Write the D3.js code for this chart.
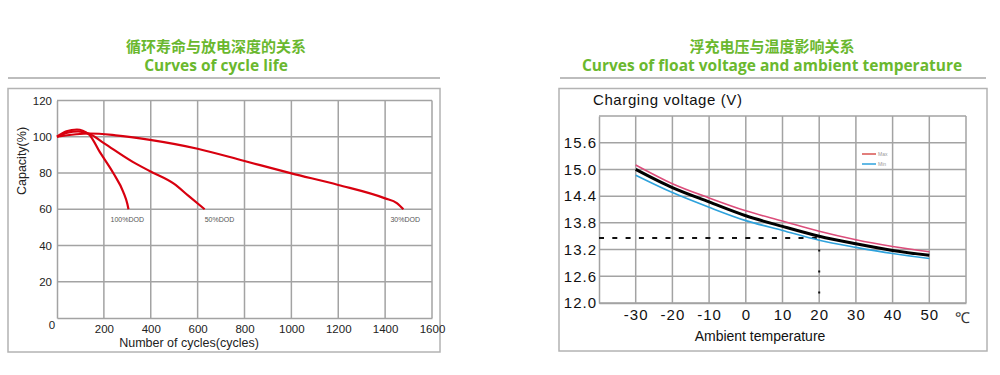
<!DOCTYPE html>
<html>
<head>
<meta charset="utf-8">
<script src="https://cdn.jsdelivr.net/npm/d3@7"></script>
<style>
    body { margin: 0; background: #fff; }
    .tick-l { font-family: "Liberation Sans", Arial, sans-serif; font-size: 11.5px; fill: #222; }
    .tick-r { font-family: "Liberation Sans", Arial, sans-serif; font-size: 15px; fill: #111; letter-spacing: 1px; }
    .title-cn { font-family: "Noto Sans CJK SC", sans-serif; font-weight: 700; font-size: 15px; fill: #6ab82e; }
    .title-en { font-family: "Open Sans", sans-serif; font-weight: 700; font-size: 15.5px; fill: #6ab82e; }
</style>
</head>
<body>
<div id="chart"></div>
<script>
"use strict";

// ---- cycle life chart data ----
const cycleTicks = [200, 400, 600, 800, 1000, 1200, 1400, 1600];
const capacityTicks = [20, 40, 60, 80, 100, 120];
const dodNames = ["100%DOD", "50%DOD", "30%DOD"];
const dod100 = [[0, 100], [40, 103], [85, 104], [135, 101.5], [183, 91.5], [240, 80], [283, 69.5], [300, 63], [305, 60]];
const dod50 = [[0, 100], [45, 102.3], [90, 103], [140, 101.5], [200, 96.5], [325, 86], [397, 81], [500, 74], [560, 67.5], [630, 60]];
const dod30 = [[0, 100], [140, 101.8], [250, 100.8], [397, 98.3], [600, 93.4], [800, 86.6], [1000, 79.8], [1200, 73.4], [1400, 66], [1450, 63.4], [1478, 60]];

// ---- float voltage chart data ----
const tempTicks = [-30, -20, -10, 0, 10, 20, 30, 40, 50];
const voltTicks = [12.0, 12.6, 13.2, 13.8, 14.4, 15.0, 15.6];
const temps = [-30, -20, -10, 0, 10, 20, 30, 40, 50];
const voltMax = [15.10, 14.68, 14.36, 14.07, 13.84, 13.61, 13.42, 13.27, 13.15];
const voltMid = [15.00, 14.59, 14.27, 13.96, 13.72, 13.50, 13.33, 13.18, 13.07];
const voltMin = [14.87, 14.48, 14.15, 13.85, 13.63, 13.41, 13.25, 13.11, 13.00];
const refVolt = 13.46;
const refTemp = 20;
const legendNames = ["Max", "Min"];

const svg = d3.select("#chart")
    .append("svg")
    .attr("width", 1000)
    .attr("height", 375);

const GRID = "#a3a3a3";

function header(cx, x0, x1, cn, en) {
    svg.append("text").attr("class", "title-cn")
        .attr("x", cx).attr("y", 52).attr("text-anchor", "middle").text(cn);
    svg.append("text").attr("class", "title-en")
        .attr("x", cx).attr("y", 71).attr("text-anchor", "middle").text(en);
    svg.append("line")
        .attr("x1", x0).attr("x2", x1).attr("y1", 78).attr("y2", 78)
        .attr("stroke", "#bdbdbd").attr("stroke-width", 2);
}

function panel(x, y, w, h) {
    svg.append("rect")
        .attr("x", x).attr("y", y).attr("width", w).attr("height", h)
        .attr("fill", "none").attr("stroke", "#b3b3b3").attr("stroke-width", 1.5);
}

// ================= left chart =================
header(216, 8, 440, "循环寿命与放电深度的关系", "Curves of cycle life");
panel(8, 88.5, 432, 263.5);

(function cycleChart() {
    const x = d3.scaleLinear().domain([0, 1600]).range([57, 432]);
    const y = d3.scaleLinear().domain([0, 120]).range([318, 100.5]);
    const g = svg.append("g");

    g.append("g").selectAll("line").data(cycleTicks).join("line")
        .attr("x1", d => x(d)).attr("x2", d => x(d))
        .attr("y1", y(0)).attr("y2", y(120))
        .attr("stroke", GRID).attr("stroke-width", 1.5);
    g.append("g").selectAll("line").data(capacityTicks).join("line")
        .attr("x1", x(0)).attr("x2", x(1600))
        .attr("y1", d => y(d)).attr("y2", d => y(d))
        .attr("stroke", GRID).attr("stroke-width", 1.5);

    const xAxis = d3.axisBottom(x).tickValues(cycleTicks).tickSize(0).tickPadding(7)
        .tickFormat(d => String(d));
    const yAxis = d3.axisLeft(y).tickValues(capacityTicks).tickSize(0).tickPadding(5);
    g.append("g").attr("transform", `translate(0,${y(0)})`).call(xAxis)
        .call(a => a.select(".domain").attr("stroke", GRID).attr("stroke-width", 1.5))
        .call(a => a.selectAll("text").attr("class", "tick-l").attr("fill", null));
    g.append("g").attr("transform", `translate(${x(0)},0)`).call(yAxis)
        .call(a => a.select(".domain").attr("stroke", GRID).attr("stroke-width", 1.5))
        .call(a => a.selectAll("text").attr("class", "tick-l").attr("fill", null));

    g.append("text").attr("class", "tick-l")
        .attr("x", x(0) - 5).attr("y", y(0) + 11).attr("text-anchor", "middle").text("0");

    const line = d3.line()
        .x(d => x(d[0]))
        .y(d => y(d[1]))
        .curve(d3.curveMonotoneX);
    [dod30, dod50, dod100].forEach(s => {
        g.append("path").datum(s)
            .attr("d", line)
            .attr("fill", "none")
            .attr("stroke", "#d8000f")
            .attr("stroke-width", 2.2);
    });

    // DOD labels under the end points
    const labelDx = [-18, 0, -13];
    [dod100, dod50, dod30].forEach((s, i) => {
        const end = s[s.length - 1];
        g.append("text")
            .attr("x", x(end[0]) + labelDx[i]).attr("y", y(end[1]) + 13)
            .attr("font-family", "Liberation Sans, Arial, sans-serif")
            .attr("font-size", 7).attr("fill", "#555")
            .text(dodNames[i]);
    });

    g.append("text")
        .attr("font-family", "Liberation Sans, Arial, sans-serif").attr("font-size", 12.5).attr("fill", "#222")
        .attr("text-anchor", "middle")
        .attr("x", 189).attr("y", 347)
        .text("Number of cycles(cycles)");
    g.append("text")
        .attr("font-family", "Liberation Sans, Arial, sans-serif").attr("font-size", 12.5).attr("fill", "#222")
        .attr("text-anchor", "middle")
        .attr("transform", "translate(26,161) rotate(-90)")
        .text("Capacity(%)");
})();

// ================= right chart =================
header(772, 560, 986, "浮充电压与温度影响关系", "Curves of float voltage and ambient temperature");
panel(559, 88.5, 428, 262.5);

(function voltageChart() {
    const x = d3.scaleLinear().domain([-40, 60]).range([599, 966]);
    const y = d3.scaleLinear().domain([12, 16.2]).range([303, 116]);
    const g = svg.append("g");

    g.append("g").selectAll("line").data(tempTicks.concat([60])).join("line")
        .attr("x1", d => x(d)).attr("x2", d => x(d))
        .attr("y1", y(12)).attr("y2", y(16.2))
        .attr("stroke", GRID).attr("stroke-width", 1.5);
    g.append("g").selectAll("line").data(voltTicks.concat([16.2])).join("line")
        .attr("x1", x(-40)).attr("x2", x(60))
        .attr("y1", d => y(d)).attr("y2", d => y(d))
        .attr("stroke", GRID).attr("stroke-width", 1.5);

    const xAxis = d3.axisBottom(x).tickValues(tempTicks).tickSize(0).tickPadding(6)
        .tickFormat(d => String(d));
    const yAxis = d3.axisLeft(y).tickValues(voltTicks).tickSize(0).tickPadding(2)
        .tickFormat(d3.format(".1f"));
    g.append("g").attr("transform", `translate(0,${y(12)})`).call(xAxis)
        .call(a => a.select(".domain").attr("stroke", GRID).attr("stroke-width", 1.5))
        .call(a => a.selectAll("text").attr("class", "tick-r").attr("fill", null));
    g.append("g").attr("transform", `translate(${x(-40)},0)`).call(yAxis)
        .call(a => a.select(".domain").attr("stroke", GRID).attr("stroke-width", 1.5))
        .call(a => a.selectAll("text").attr("class", "tick-r").attr("fill", null));

    // reference lines at 20 ℃
    g.append("line")
        .attr("x1", x(-40)).attr("x2", x(refTemp))
        .attr("y1", y(refVolt)).attr("y2", y(refVolt))
        .attr("stroke", "#111").attr("stroke-width", 2)
        .attr("stroke-dasharray", "5,8.3");
    g.append("line")
        .attr("x1", x(refTemp)).attr("x2", x(refTemp))
        .attr("y1", y(refVolt)).attr("y2", y(12))
        .attr("stroke", "#111").attr("stroke-width", 2)
        .attr("stroke-dasharray", "2,19").attr("stroke-dashoffset", 9.5);

    const line = d3.line()
        .x((d, i) => x(temps[i]))
        .y(d => y(d))
        .curve(d3.curveMonotoneX);
    g.append("path").datum(voltMax).attr("d", line)
        .attr("fill", "none").attr("stroke", "#dc4d7b").attr("stroke-width", 1.6);
    g.append("path").datum(voltMin).attr("d", line)
        .attr("fill", "none").attr("stroke", "#2ea2dc").attr("stroke-width", 1.6);
    g.append("path").datum(voltMid).attr("d", line)
        .attr("fill", "none").attr("stroke", "#000").attr("stroke-width", 3);

    // legend
    const legendColors = ["#d9534f", "#2ea2dc"];
    legendNames.forEach((name, i) => {
        const ly = 154 + i * 10;
        g.append("line")
            .attr("x1", 862).attr("x2", 876).attr("y1", ly).attr("y2", ly)
            .attr("stroke", legendColors[i]).attr("stroke-width", 1.5);
        g.append("text")
            .attr("x", 878).attr("y", ly + 2)
            .attr("font-family", "Liberation Sans, Arial, sans-serif")
            .attr("font-size", 5).attr("fill", "#999")
            .text(name);
    });

    g.append("text")
        .attr("font-family", "Liberation Sans, Arial, sans-serif").attr("font-size", 15).attr("fill", "#111")
        .attr("letter-spacing", 0.6)
        .attr("x", 593).attr("y", 105)
        .text("Charging voltage (V)");
    g.append("text")
        .attr("font-family", "Liberation Sans, Arial, sans-serif").attr("font-size", 14).attr("fill", "#111")
        .attr("text-anchor", "middle")
        .attr("x", 760).attr("y", 341)
        .text("Ambient temperature");
    g.append("text")
        .attr("font-family", "Liberation Sans, Arial, sans-serif").attr("font-size", 15).attr("fill", "#333")
        .attr("x", 955).attr("y", 323)
        .text("℃");
})();
</script>
</body>
</html>
